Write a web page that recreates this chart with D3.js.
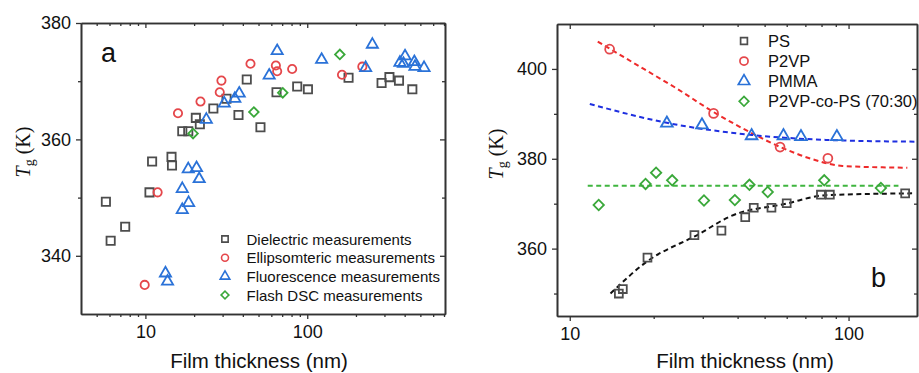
<!DOCTYPE html>
<html lang="en">
<head>
<meta charset="UTF-8">
<title>Tg vs film thickness</title>
<script src="https://cdn.jsdelivr.net/npm/d3@7/dist/d3.min.js"></script>
<style>
body { margin: 0; background: #fff; }
svg text { font-family: Arial, 'Liberation Sans', sans-serif; fill: #111; }
.ylab { font-family: 'Times New Roman', 'Liberation Serif', serif; }
</style>
</head>
<body>
<script>
// ---- panel a : [thickness (nm), Tg (K)] ----
const dielectric = [[5.7,349.3],[6.1,342.6],[7.5,345.0],[11.0,356.2],[10.6,350.9],[14.5,357.0],[14.6,355.5],
  [16.9,361.4],[18.4,361.4],[20.5,363.7],[21.7,362.6],[26.3,365.3],[31.7,367.0],[37.6,364.2],[42.3,370.3],
  [51.4,362.1],[64.6,368.1],[86.7,369.1],[101,368.6],[180,370.6],[288,369.7],[322,370.7],[369,370.1],[446,368.6]];
const ellipsometric = [[9.9,335.0],[11.9,350.9],[15.9,364.5],[21.9,366.5],[28.8,368.1],[29.5,370.1],[44.6,373.0],
  [64.0,372.7],[65.2,371.7],[80.7,372.1],[164,371.1],[219,372.5]];
const fluorescence = [[13.3,337.0],[13.7,335.6],[16.9,351.5],[16.9,347.9],[18.5,349.1],[18.4,354.9],[20.7,355.1],
  [21.5,353.2],[23.8,363.4],[30.7,366.2],[35.7,367.0],[38.0,367.9],[58.2,371.0],[65.2,375.2],[122.7,373.7],
  [229.6,372.3],[252.6,376.3],[374,373.2],[393,373.0],[402,374.3],[459,373.3],[463,372.5],[527,372.3]];
const flashDSC = [[19.7,361.0],[46.8,364.7],[70.6,368.0],[159,374.6]];

const aLegend = ['Dielectric measurements', 'Ellipsomteric measurements', 'Fluorescence measurements', 'Flash DSC measurements'];
const aXTicks = [10, 100];
const aXMinor = [5, 6, 7, 8, 9, 20, 30, 40, 50, 60, 70, 80, 90, 200, 300, 400, 500, 600, 700];
const aYTicks = [340, 360, 380];
const aYMinor = [350, 370];

// ---- panel b ----
const ps = [[15.0,350.0],[15.5,351.0],[19.0,358.0],[28.0,363.0],[35.0,364.0],[42.6,367.0],[45.7,369.1],
  [52.9,369.1],[60.0,370.1],[79.6,372.0],[85.7,372.0],[159.6,372.3]];
const p2vp = [[13.9,404.4],[32.8,390.1],[56.8,382.6],[84.3,380.1]];
const pmma = [[22.3,387.9],[29.8,387.5],[44.9,385.1],[58.4,385.1],[67.5,384.9],[90.8,384.9]];
const copoly = [[12.7,369.7],[18.7,374.4],[20.4,376.9],[23.3,375.2],[30.3,370.7],[39.1,370.8],[44.1,374.2],
  [51.3,372.6],[81.8,375.2],[130.6,373.5]];

// dashed guide curves
const fitPS = [[14.0,350.0],[18.8,357.0],[29.2,363.3],[37.4,367.1],[59.7,370.0],[83,371.9],[169,372.3]];
const fitP2VP = [[12.6,406.1],[18.3,400.1],[24.1,395.7],[32.6,390.5],[44.0,386.0],[56.5,382.7],[74.3,379.9],[95.1,378.4],[162.5,378.0]];
const fitPMMA = [[11.8,392.2],[22.3,388.0],[44.9,385.3],[83.0,384.2],[176,383.8]];
const fitCopoly = [[11.6,374.0],[151,374.0]];

const bLegend = ['PS', 'P2VP', 'PMMA', 'P2VP-co-PS (70:30)'];
const bXTicks = [10, 100];
const bXMinor = [20, 30, 40, 50, 60, 70, 80, 90];
const bYTicks = [360, 380, 400];
const bYMinor = [350, 370, 390];

const W = 919, H = 373;
const svg = d3.select('body').append('svg').attr('width', W).attr('height', H);

const colors = { gray: '#4d4d4d', red: '#e5474b', blue: '#2a72d8', green: '#3aa83a' };

function symbolPath(shape, size) {
  const t = shape === 'circle' ? d3.symbolCircle
    : shape === 'triangle' ? d3.symbolTriangle
    : d3.symbolSquare;
  return d3.symbol().type(t).size(size)();
}

function drawFrame(g, x, y, xTicks, xMinor, yTicks, yMinor) {
  const [x0, x1] = x.range(), [y0, y1] = y.range();
  const fmt = d3.format('d');
  // bottom (out) / left (out)
  g.append('g').attr('transform', `translate(0,${y0})`)
    .call(d3.axisBottom(x).tickValues(xMinor).tickSize(3).tickFormat('').tickSizeOuter(0));
  g.append('g').attr('transform', `translate(0,${y0})`)
    .call(d3.axisBottom(x).tickValues(xTicks).tickSize(5).tickPadding(6).tickFormat(fmt).tickSizeOuter(0));
  g.append('g').attr('transform', `translate(${x0},0)`)
    .call(d3.axisLeft(y).tickValues(yMinor).tickSize(3).tickFormat('').tickSizeOuter(0));
  g.append('g').attr('transform', `translate(${x0},0)`)
    .call(d3.axisLeft(y).tickValues(yTicks).tickSize(5).tickPadding(5).tickFormat(fmt).tickSizeOuter(0));
  // top / right mirrors, ticks inward
  g.append('g').attr('transform', `translate(0,${y1})`)
    .call(d3.axisTop(x).tickValues(xMinor).tickSize(-3).tickFormat('').tickSizeOuter(0));
  g.append('g').attr('transform', `translate(0,${y1})`)
    .call(d3.axisTop(x).tickValues(xTicks).tickSize(-5).tickFormat('').tickSizeOuter(0));
  g.append('g').attr('transform', `translate(${x1},0)`)
    .call(d3.axisRight(y).tickValues(yMinor).tickSize(-3).tickFormat('').tickSizeOuter(0));
  g.append('g').attr('transform', `translate(${x1},0)`)
    .call(d3.axisRight(y).tickValues(yTicks).tickSize(-5).tickFormat('').tickSizeOuter(0));

  g.selectAll('.domain').attr('stroke', '#333').attr('stroke-width', 1.6);
  g.selectAll('.tick line').attr('stroke', '#333').attr('stroke-width', 1.3);
  g.selectAll('.tick text').attr('font-size', 18).attr('fill', '#111')
    .style('font-family', "Arial, 'Liberation Sans', sans-serif");
}

function drawPoints(g, x, y, data, shape, size, color) {
  g.append('g').selectAll('path').data(data).join('path')
    .attr('d', symbolPath(shape, size))
    .attr('transform', d => `translate(${x(d[0])},${y(d[1])})` + (shape === 'diamond' ? ' rotate(45)' : ''))
    .attr('fill', 'none').attr('stroke', color).attr('stroke-width', 1.8);
}

function yTitle(g, cx, cy) {
  const t = g.append('text').attr('class', 'ylab')
    .attr('transform', `translate(${cx},${cy}) rotate(-90)`)
    .attr('text-anchor', 'middle').attr('font-size', 20)
    .style('font-family', "'Times New Roman', 'Liberation Serif', serif");
  t.append('tspan').attr('font-style', 'italic').text('T');
  t.append('tspan').attr('font-size', 14).attr('dy', 4).text('g');
  t.append('tspan').attr('dy', -4).text(' (K)');
}

// ================= panel a =================
{
  const x = d3.scaleLog().domain([4, 710]).range([81, 445]);
  const y = d3.scaleLinear().domain([330, 380]).range([314, 23]);
  const g = svg.append('g');
  drawFrame(g, x, y, aXTicks, aXMinor, aYTicks, aYMinor);

  drawPoints(g, x, y, dielectric, 'square', 68, colors.gray);
  drawPoints(g, x, y, ellipsometric, 'circle', 54, colors.red);
  drawPoints(g, x, y, fluorescence, 'triangle', 54, colors.blue);
  drawPoints(g, x, y, flashDSC, 'diamond', 46, colors.green);

  const shapes = ['square', 'circle', 'triangle', 'diamond'];
  const lcol = [colors.gray, colors.red, colors.blue, colors.green];
  const lsize = [40, 38, 40, 30];
  aLegend.forEach((name, i) => {
    const ly = 239 + i * 18.7;
    g.append('path').attr('d', symbolPath(shapes[i], lsize[i]))
      .attr('transform', `translate(225,${ly})` + (shapes[i] === 'diamond' ? ' rotate(45)' : ''))
      .attr('fill', 'none').attr('stroke', lcol[i]).attr('stroke-width', 1.6);
    g.append('text').attr('x', 246.5).attr('y', ly + 5.5).attr('font-size', 15).text(name);
  });

  g.append('text').attr('x', 101).attr('y', 62).attr('font-size', 27).text('a');
  g.append('text').attr('x', 259).attr('y', 368).attr('text-anchor', 'middle')
    .attr('font-size', 20.5).text('Film thickness (nm)');
  yTitle(g, 30, 152);
}

// ================= panel b =================
{
  const x = d3.scaleLog().domain([9, 176]).range([557, 917]);
  const y = d3.scaleLinear().domain([345, 410]).range([316, 24]);
  const g = svg.append('g');
  drawFrame(g, x, y, bXTicks, bXMinor, bYTicks, bYMinor);

  const line = d3.line().x(d => x(d[0])).y(d => y(d[1])).curve(d3.curveMonotoneX);
  const fits = [[fitPS, '#111'], [fitP2VP, '#ee2a2a'], [fitPMMA, '#1e2fe0'], [fitCopoly, '#3fb53f']];
  fits.forEach(([d, c]) => {
    g.append('path').attr('d', line(d)).attr('fill', 'none')
      .attr('stroke', c).attr('stroke-width', 2).attr('stroke-dasharray', '5,3.5');
  });

  drawPoints(g, x, y, ps, 'square', 62, colors.gray);
  drawPoints(g, x, y, p2vp, 'circle', 62, colors.red);
  drawPoints(g, x, y, pmma, 'triangle', 60, colors.blue);
  drawPoints(g, x, y, copoly, 'diamond', 54, colors.green);

  const shapes = ['square', 'circle', 'triangle', 'diamond'];
  const lcol = [colors.gray, colors.red, colors.blue, colors.green];
  const lsize = [46, 52, 56, 46];
  bLegend.forEach((name, i) => {
    const ly = 41 + i * 20.1;
    g.append('path').attr('d', symbolPath(shapes[i], lsize[i]))
      .attr('transform', `translate(744,${ly})` + (shapes[i] === 'diamond' ? ' rotate(45)' : ''))
      .attr('fill', 'none').attr('stroke', lcol[i]).attr('stroke-width', 1.7);
    g.append('text').attr('x', 768).attr('y', ly + 6).attr('font-size', 16.5).text(name);
  });

  g.append('text').attr('x', 871).attr('y', 287).attr('font-size', 27).text('b');
  g.append('text').attr('x', 745).attr('y', 368).attr('text-anchor', 'middle')
    .attr('font-size', 20.5).text('Film thickness (nm)');
  yTitle(g, 503, 154);
}
</script>
</body>
</html>
